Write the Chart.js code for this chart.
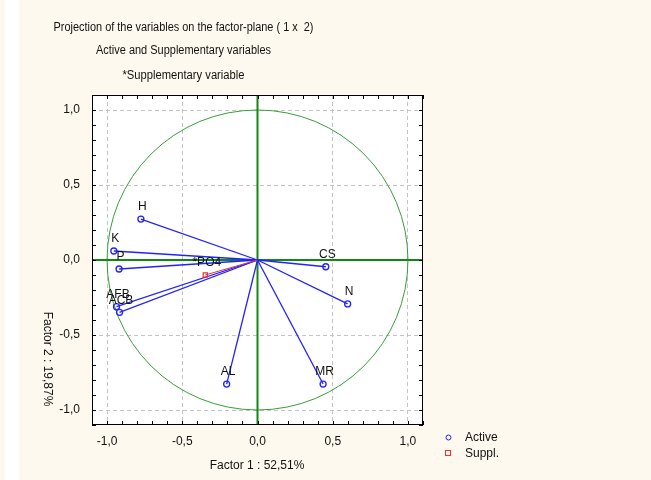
<!DOCTYPE html>
<html>
<head>
<meta charset="utf-8">
<script src="https://cdn.jsdelivr.net/npm/chart.js@4/dist/chart.umd.min.js"></script>
<style>
  html, body { margin: 0; padding: 0; background: #fdf9ee; }
  #wrap { width: 651px; height: 480px; position: relative; }
</style>
</head>
<body>
<div id="wrap"><canvas id="plane"></canvas></div>
<script>
// Active variables: coordinates on factor 1 and factor 2
const varNames = ['H', 'K', 'P', 'AFB', 'ACB', 'CS', 'N', 'AL', 'MR'];
const factor1 = [-0.775, -0.955, -0.92, -0.937, -0.917, 0.454, 0.599, -0.205, 0.436];
const factor2 = [0.273, 0.06, -0.06, -0.311, -0.349, -0.045, -0.293, -0.827, -0.827];

// Supplementary variable
const supplNames = ['*PO4'];
const supplF1 = [-0.347];
const supplF2 = [-0.10];

// Axis tick labels
const axisTicks = [-1.0, -0.5, 0.0, 0.5, 1.0];
const axisMin = -1.1;
const axisMax = 1.1;

const titleLines = [
    'Projection of the variables on the factor-plane ( 1 x  2)',
    'Active and Supplementary variables',
    '*Supplementary variable'
];
const xTitle = 'Factor 1 : 52,51%';
const yTitle = 'Factor 2 : 19,87%';

const BLUE = '#2222ff';
const RED = '#f03030';
const GREEN = '#118811';
const FONT = "'Liberation Sans', Arial, sans-serif";

const fmt = v => (Math.abs(v) < 1e-9 ? 0 : v).toFixed(1).replace('.', ',');

// build datasets
const datasets = [];
varNames.forEach((name, i) => {
    datasets.push({
        label: name,
        data: [{ x: 0, y: 0 }, { x: factor1[i], y: factor2[i] }],
        showLine: true,
        borderColor: BLUE,
        borderWidth: 1.3,
        pointRadius: 0,
        order: 3
    });
});
supplNames.forEach((name, i) => {
    datasets.push({
        label: name,
        data: [{ x: 0, y: 0 }, { x: supplF1[i], y: supplF2[i] }],
        showLine: true,
        borderColor: RED,
        borderWidth: 1,
        pointRadius: 0,
        order: 2
    });
});
datasets.push({
    label: 'Active',
    names: varNames,
    data: varNames.map((n, i) => ({ x: factor1[i], y: factor2[i] })),
    pointStyle: 'circle',
    pointRadius: 3,
    borderWidth: 1.3,
    borderColor: BLUE,
    backgroundColor: 'rgba(0,0,0,0)',
    order: 1
});
datasets.push({
    label: 'Suppl.',
    names: supplNames,
    data: supplNames.map((n, i) => ({ x: supplF1[i], y: supplF2[i] })),
    pointStyle: 'rect',
    pointRadius: 3,
    borderWidth: 1.2,
    borderColor: RED,
    backgroundColor: 'rgba(0,0,0,0)',
    order: 1
});

// background, unit circle, zero axes, inner ticks, frame, texts
const decor = {
    id: 'decor',
    beforeDraw(chart) {
        const { ctx, chartArea: a } = chart;
        ctx.save();
        ctx.fillStyle = '#fdf9ee';
        ctx.fillRect(0, 0, chart.width, chart.height);
        ctx.fillStyle = '#ffffff';
        ctx.fillRect(5, 0, 14, chart.height);
        ctx.fillRect(a.left, a.top, a.right - a.left, a.bottom - a.top);
        ctx.restore();
    },
    beforeDatasetsDraw(chart) {
        const { ctx, chartArea: a, scales: { x, y } } = chart;
        const x0 = x.getPixelForValue(0), y0 = y.getPixelForValue(0);
        ctx.save();
        // unit circle
        ctx.strokeStyle = '#3a9e3a';
        ctx.lineWidth = 1;
        ctx.beginPath();
        ctx.ellipse(x0, y0, x.getPixelForValue(1) - x0, y0 - y.getPixelForValue(1), 0, 0, Math.PI * 2);
        ctx.stroke();
        // zero axes
        ctx.strokeStyle = GREEN;
        ctx.lineWidth = 2;
        ctx.beginPath();
        ctx.moveTo(a.left, y0); ctx.lineTo(a.right, y0);
        ctx.moveTo(x0, a.top); ctx.lineTo(x0, a.bottom);
        ctx.stroke();
        // inner minor ticks every 0.1
        ctx.strokeStyle = '#000';
        ctx.lineWidth = 1;
        ctx.beginPath();
        for (let k = -11; k <= 11; k++) {
            const px = Math.round(x.getPixelForValue(k / 10)) + 0.5;
            const py = Math.round(y.getPixelForValue(k / 10)) + 0.5;
            ctx.moveTo(px, a.top); ctx.lineTo(px, a.top + 4);
            ctx.moveTo(px, a.bottom); ctx.lineTo(px, a.bottom - 4);
            ctx.moveTo(a.left, py); ctx.lineTo(a.left + 4, py);
            ctx.moveTo(a.right, py); ctx.lineTo(a.right - 4, py);
        }
        ctx.stroke();
        ctx.strokeRect(Math.round(a.left) + 0.5, Math.round(a.top) + 0.5,
            Math.round(a.right - a.left) - 1, Math.round(a.bottom - a.top) - 1);
        ctx.restore();
    },
    afterDatasetsDraw(chart) {
        const { ctx } = chart;
        ctx.save();
        ctx.fillStyle = '#111';
        // point labels
        ctx.font = '12px ' + FONT;
        ctx.textAlign = 'center';
        ctx.textBaseline = 'middle';
        chart.data.datasets.forEach((ds, di) => {
            if (!ds.names) return;
            chart.getDatasetMeta(di).data.forEach((pt, j) => {
                ctx.fillText(ds.names[j], pt.x + 1.5, pt.y - 12);
            });
        });
        // titles
        ctx.font = '12px ' + FONT;
        ctx.textBaseline = 'alphabetic';
        const widths = [260, 175, 122];
        const baselines = [31, 54, 79];
        titleLines.forEach((t, i) => ctx.fillText(t, 183.5, baselines[i], widths[i]));
        // axis titles
        ctx.font = '12px ' + FONT;
        ctx.textBaseline = 'middle';
        ctx.fillText(xTitle, 257, 466);
        ctx.save();
        ctx.translate(47, 359);
        ctx.rotate(Math.PI / 2);
        ctx.fillText(yTitle, 0, 0);
        ctx.restore();
        // legend
        ctx.textAlign = 'left';
        ctx.strokeStyle = BLUE;
        ctx.lineWidth = 1;
        ctx.beginPath();
        ctx.arc(448.5, 437.5, 2.5, 0, Math.PI * 2);
        ctx.stroke();
        ctx.fillText('Active', 465, 438);
        ctx.strokeStyle = RED;
        ctx.strokeRect(445.5, 450.5, 5, 5);
        ctx.fillText('Suppl.', 465, 453.5);
        ctx.restore();
    }
};

const tickOpts = {
    color: '#111',
    font: { family: FONT, size: 12 },
    callback: v => fmt(v)
};
const gridOpts = {
    color: c => (c.tick && Math.abs(c.tick.value) < 1e-9) ? 'rgba(0,0,0,0)' : '#c4c4c4',
    lineWidth: 1,
    drawTicks: false
};

new Chart(document.getElementById('plane'), {
    type: 'scatter',
    data: { datasets: datasets },
    options: {
        responsive: true,
        maintainAspectRatio: false,
        animation: false,
        events: [],
        layout: { padding: { top: 95, right: 228, bottom: 0, left: 0 } },
        plugins: { legend: { display: false }, tooltip: { enabled: false } },
        scales: {
            x: {
                type: 'linear', min: axisMin, max: axisMax,
                afterBuildTicks: s => { s.ticks = axisTicks.map(v => ({ value: v })); },
                afterFit: s => { s.height = 55; },
                ticks: { ...tickOpts, padding: 9, maxRotation: 0 },
                grid: gridOpts,
                border: { display: false, dash: [4, 3] }
            },
            y: {
                type: 'linear', min: axisMin, max: axisMax,
                afterBuildTicks: s => { s.ticks = axisTicks.map(v => ({ value: v })); },
                afterFit: s => { s.width = 92; },
                ticks: { ...tickOpts, padding: 12 },
                grid: gridOpts,
                border: { display: false, dash: [4, 3] }
            }
        }
    },
    plugins: [decor]
});
</script>
</body>
</html>
